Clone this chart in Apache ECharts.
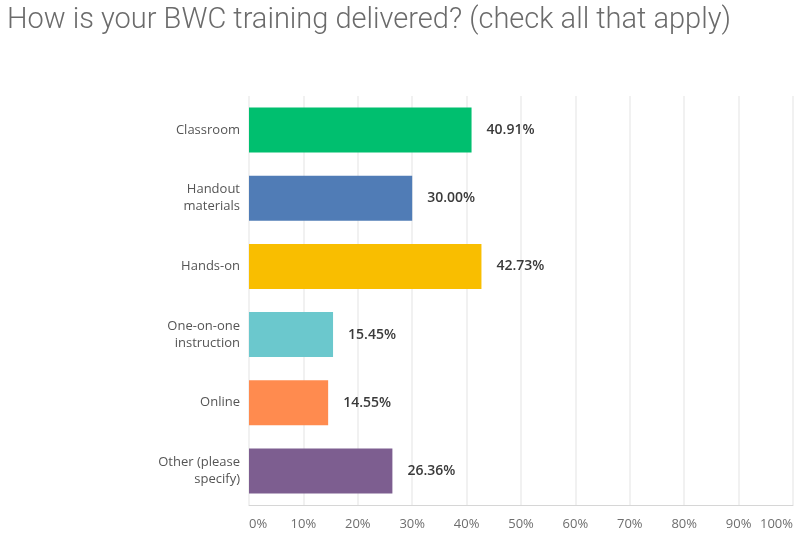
<!DOCTYPE html>
<html>
<head>
<meta charset="utf-8">
<script src="https://cdn.jsdelivr.net/npm/echarts@6/dist/echarts.min.js"></script>
<style>
html,body{margin:0;padding:0;background:#fff;}
#chart{width:800px;height:550px;}
</style>
</head>
<body>
<div id="chart"></div>
<script>
const titleText = 'How is your BWC training delivered? (check all that apply)';
const categories = ['Classroom', 'Handout\nmaterials', 'Hands-on', 'One-on-one\ninstruction', 'Online', 'Other (please\nspecify)'];
const values = [40.91, 30.00, 42.73, 15.45, 14.55, 26.36];
const barColors = ['#00BF6F', '#507CB6', '#F9BE00', '#6BC8CD', '#FF8B4F', '#7D5E90'];

const chart = echarts.init(document.getElementById('chart'), null, {renderer: 'canvas'});
chart.setOption({
  animation: false,
  backgroundColor: '#ffffff',
  title: {
    text: titleText,
    left: 2,
    top: 1,
    textStyle: {
      fontFamily: 'Roboto',
      fontWeight: 300,
      fontSize: 29,
      color: '#6b6b6b'
    }
  },
  grid: {left: 249, right: 7, top: 96, bottom: 45, containLabel: false},
  xAxis: {
    type: 'value',
    min: 0,
    max: 100,
    interval: 10,
    axisLine: {show: true, lineStyle: {color: '#d6d6d6', width: 1}},
    axisTick: {show: false},
    splitLine: {show: true, lineStyle: {color: '#ededed', width: 1.5}},
    axisLabel: {
      formatter: '{value}%',
      color: '#6e6e6e',
      fontFamily: 'Open Sans',
      fontSize: 13,
      margin: 13,
      alignMinLabel: 'left',
      alignMaxLabel: 'right'
    }
  },
  yAxis: {
    type: 'category',
    data: categories,
    inverse: true,
    axisLine: {show: false},
    axisTick: {show: false},
    axisLabel: {
      color: '#555',
      fontFamily: 'Open Sans',
      fontSize: 13,
      lineHeight: 17,
      margin: 9,
      align: 'right'
    }
  },
  series: [{
    type: 'bar',
    data: values.map((v, i) => ({value: v, itemStyle: {color: barColors[i]}})),
    barWidth: '66%',
    label: {
      show: true,
      position: 'right',
      distance: 15,
      formatter: p => p.value.toFixed(2) + '%',
      color: '#3a3a3a',
      fontFamily: 'Open Sans',
      fontWeight: 600,
      fontSize: 14
    }
  }]
});
</script>
</body>
</html>
